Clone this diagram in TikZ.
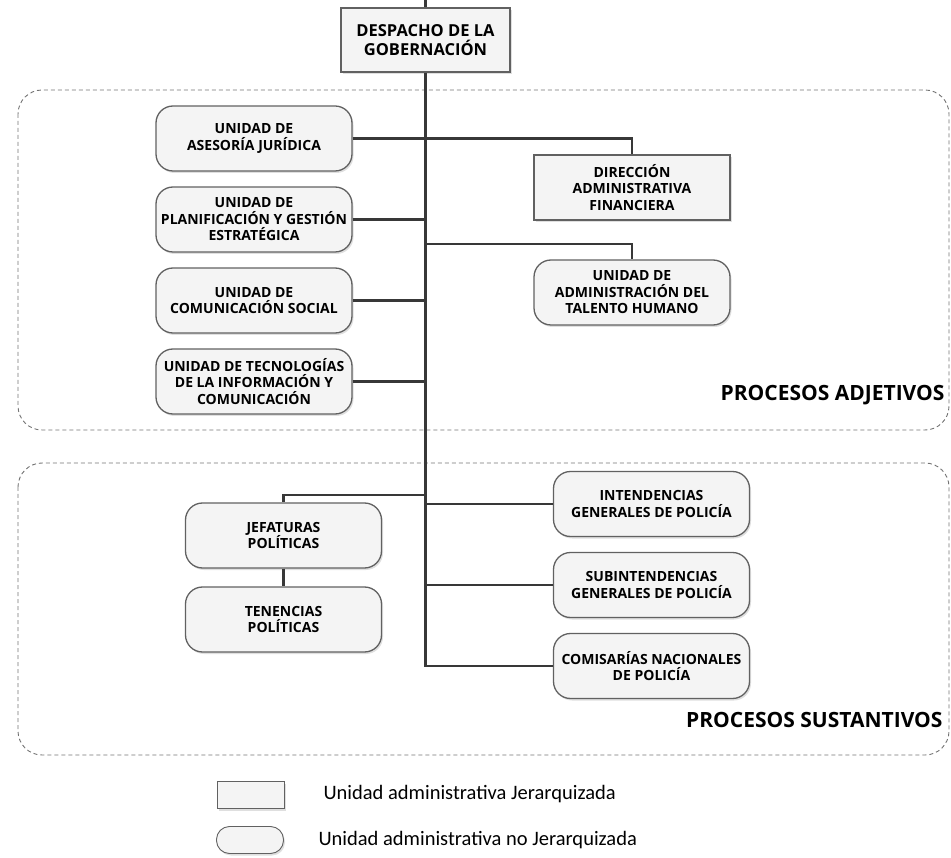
\documentclass[tikz,border=0pt]{standalone}
\usepackage{fontspec}
\usepackage{tikz}
\usetikzlibrary{positioning,shadows}
\newfontfamily\boxfont{Open Sans}
\newfontfamily\legendfont{Carlito}

\begin{document}
\begin{tikzpicture}[x=1pt,y=-1pt,node distance=81pt,on grid,
   unit/.style={draw=black!62,line width=1.3pt,fill=gray!9,minimum width=196pt,
     minimum height=65pt,inner sep=1pt,align=center,
     font=\boxfont\bfseries\fontsize{14}{16.5}\selectfont,
     drop shadow={shadow xshift=1.5pt,shadow yshift=-2pt,opacity=.25}},
   jer/.style={unit},
   nojer/.style={unit,rounded corners=17pt},
   link/.style={draw=black!78,line width=2.1pt},
   region/.style={draw=black!55,line width=.9pt,dash pattern=on 4pt off 3pt,rounded corners=24pt},
   procname/.style={anchor=east,font=\boxfont\bfseries\fontsize{21}{24}\selectfont},
   legendtext/.style={anchor=west,font=\legendfont\fontsize{20.5}{22}\selectfont}]
   \useasboundingbox (0,0) rectangle (951,858);
   \draw[region] (18,90) rectangle (949,430);
   \draw[region] (18,463) rectangle (949,755);

   \node[jer,minimum width=169pt,minimum height=64pt,
     font=\boxfont\bfseries\fontsize{16.5}{19}\selectfont] (desp) at (425.5,40) {DESPACHO DE LA\\GOBERNACIÓN};
   \node[nojer] (ases) at (254,138.5) {UNIDAD DE\\ASESORÍA JURÍDICA};
   \node[nojer] (plan) [below=of ases] {UNIDAD DE\\PLANIFICACIÓN Y GESTIÓN\\ESTRATÉGICA};
   \node[nojer] (comu) [below=of plan] {UNIDAD DE\\COMUNICACIÓN SOCIAL};
   \node[nojer] (tecn) [below=of comu] {UNIDAD DE TECNOLOGÍAS\\DE LA INFORMACIÓN Y\\COMUNICACIÓN};
   \node[jer] (dir) at (632,187.5) {DIRECCIÓN\\ADMINISTRATIVA\\FINANCIERA};
   \node[nojer] (tal) [below=105pt of dir] {UNIDAD DE\\ADMINISTRACIÓN DEL\\TALENTO HUMANO};
   \node[nojer] (jef) at (283.5,535.5) {JEFATURAS\\POLÍTICAS};
   \node[nojer] (ten) [below=84pt of jef] {TENENCIAS\\POLÍTICAS};
   \node[nojer] (int) at (651.5,504) {INTENDENCIAS\\GENERALES DE POLICÍA};
   \node[nojer] (sub) [below=of int] {SUBINTENDENCIAS\\GENERALES DE POLICÍA};
   \node[nojer] (com) [below=of sub] {COMISARÍAS NACIONALES\\DE POLICÍA};

   \node[procname] (adj) at (948,395) {PROCESOS ADJETIVOS};
   \node[procname] (sus) at (946,720) {PROCESOS SUSTANTIVOS};

   \coordinate (top) at (425.5,0);
   \coordinate (talj) at (425.5,244);
   \coordinate (jefj) at (425.5,495);
   \draw[link] (top) -- (desp.north);
   \draw[link] (desp.south) -- (desp.south |- com.west) -- (com.west);
   \draw[link] (ases.east) -| (dir.north);
   \draw[link] (plan.east) -- (plan.east -| desp.south);
   \draw[link] (comu.east) -- (comu.east -| desp.south);
   \draw[link] (tecn.east) -- (tecn.east -| desp.south);
   \draw[link] (talj) -| (tal.north);
   \draw[link] (jefj) -| (jef.north);
   \draw[link] (jef) -- (ten);
   \draw[link] (int.west) -- (int.west -| desp.south);
   \draw[link] (sub.west) -- (sub.west -| desp.south);

   \node[jer,minimum width=67pt,minimum height=27pt,line width=.9pt] (legj) at (251,795) {};
   \node[nojer,minimum width=67pt,minimum height=27pt,line width=.9pt,rounded corners=13pt] (legn) at (250,840) {};
   \node[legendtext] (legjt) at (320,794) {Unidad administrativa Jerarquizada};
   \node[legendtext] (legnt) at (315,840) {Unidad administrativa no Jerarquizada};
\end{tikzpicture}
\end{document}
